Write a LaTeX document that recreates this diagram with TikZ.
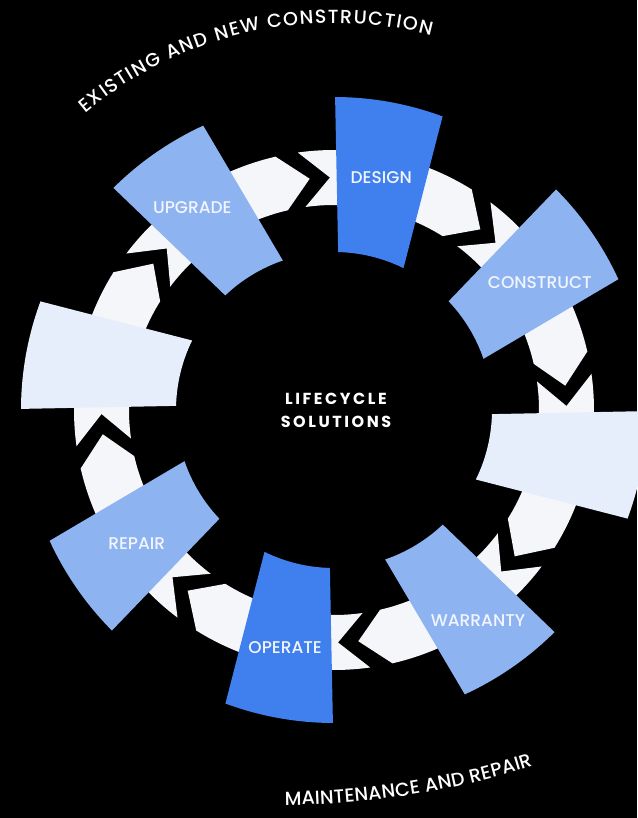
\documentclass[tikz,border=0pt]{standalone}
\usepackage{fontspec}
\setmainfont{Poppins}
\newfontfamily\medfont{Poppins Medium}
\usetikzlibrary{decorations.text}
\definecolor{designblue}{HTML}{3F80EE}
\definecolor{stepblue}{HTML}{8DB3F1}
\definecolor{paleblue}{HTML}{E7EEFB}
\definecolor{ringwhite}{HTML}{F4F6FA}
\definecolor{labelwhite}{HTML}{F2F5FF}

\begin{document}
\begin{tikzpicture}
[x=1pt,y=1pt,
  segdecorate/.style={fill=#1,draw=none},
  arrowdecorate/.style={fill=ringwhite,draw=none},
  labeldecorate/.style={text=labelwhite,inner sep=0pt,font=\medfont\fontsize{17}{17}\selectfont},
  arctextdecorate/.style={decorate,decoration={text along path,text align={fit to path},
    text color=white,text={|\medfont\fontsize{19}{19}\selectfont|#1}}}]
%% page
\useasboundingbox (-334,-408) rectangle (303,410);
\fill[black] (-334,-408) rectangle (303,410);
%% ring of arrows
\foreach \j in {97,52,...,-218} {
  \pgfmathsetmacro{\a}{\j+1}
  \pgfmathsetmacro{\b}{\j-39}
  \fill[arrowdecorate] (\a:260) arc[start angle=\a,end angle=\b,radius=260pt]
    -- ({\b-7}:232.5) -- (\b:205) arc[start angle=\b,end angle=\a,radius=205pt]
    -- ({\a-7}:232.5) -- cycle;
}
%% segments
\foreach \segname/\rot/\segcol in {design/0/designblue, construct/-45/stepblue,
    commission/-90/paleblue, warranty/-135/stepblue, operate/-180/designblue,
    repair/-225/stepblue, assess/-270/paleblue, upgrade/-315/stepblue} {
  \pgfmathsetmacro{\outl}{89.8+\rot}
  \pgfmathsetmacro{\outr}{69.7+\rot}
  \pgfmathsetmacro{\inr}{63.9+\rot}
  \pgfmathsetmacro{\inl}{88.5+\rot}
  \fill[segdecorate=\segcol] (\outl:313) arc[start angle=\outl,end angle=\outr,radius=313pt]
    -- (\inr:158) arc[start angle=\inr,end angle=\inl,radius=158pt] -- cycle;
}
%% segment labels
\foreach \nodename/\ang/\rad/\txt in {design/78.5/237/DESIGN, construct/31.7/242/CONSTRUCT,
    warranty/-55.6/255/WARRANTY, operate/-101.6/243/OPERATE,
    repair/-146/238/REPAIR, upgrade/125/247/UPGRADE} {
  \node[labeldecorate] (\nodename) at (\ang:\rad) {\txt};
}
%% centre
\node[text=white,align=center,inner sep=0pt,
  font=\fontsize{16}{23}\selectfont\bfseries\addfontfeatures{LetterSpace=16}]
  (lifecycle) at (2,0) {LIFECYCLE\\SOLUTIONS};
%% outer texts
\path[arctextdecorate={EXISTING AND NEW CONSTRUCTION}]
  (130:387) arc[start angle=130,end angle=75.5,radius=387pt];
\path[arctextdecorate={MAINTENANCE AND REPAIR}]
  (-52,430) ++(-89.8:825) arc[start angle=-89.8,end angle=-72.3,radius=825pt];
\end{tikzpicture}
\end{document}
